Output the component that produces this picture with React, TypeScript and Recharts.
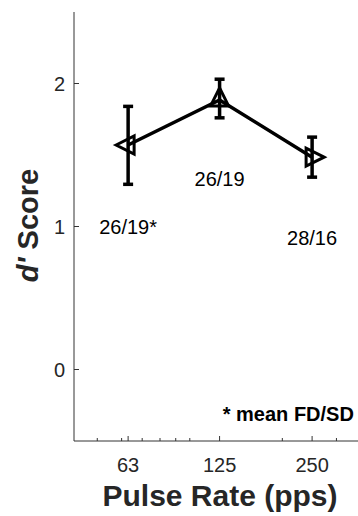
import React from 'react';
import { ComposedChart, Line, XAxis, YAxis, ErrorBar, Scatter, Label } from 'recharts';

// ---- data ----
const pulseRates = [63, 125, 250];
const dPrimeScores = [1.57, 1.885, 1.485];
const errorBelow = [0.275, 0.125, 0.14];
const errorAbove = [0.27, 0.145, 0.14];
const markerDirections = ['left', 'up', 'right'];

const xMajorTicks = [63, 125, 250];
const xMinorTicks = [50, 60, 70, 80, 90, 100, 200, 300];
const yTicks = [0, 1, 2];

const annotationX = [63, 125, 250, 128];
const annotationY = [1.0, 1.335, 0.92, -0.31];
const annotationText = ['26/19*', '26/19', '28/16', '* mean FD/SD'];
const annotationBold = [false, false, false, true];

const xAxisTitle = 'Pulse Rate (pps)';
const yAxisTitleItalic = "d'";
const yAxisTitleRest = ' Score';

// ---- styling ----
const FONT = '"Liberation Sans", Arial, Helvetica, sans-serif';
const AXIS = '#333333';
const TEXT = '#262626';
const X_DOMAIN = [42, 380];
const Y_DOMAIN = [-0.5, 2.5];

const lineData = pulseRates.map((r, i) => ({
  rate: r,
  d: dPrimeScores[i],
  err: [errorBelow[i], errorAbove[i]],
  marker: markerDirections[i],
}));

const annotationData = annotationX.map((x, i) => ({
  rate: x,
  d: annotationY[i],
  text: annotationText[i],
  bold: annotationBold[i],
}));

const allXTicks = [...xMinorTicks, ...xMajorTicks].sort((a, b) => a - b);

const BottomTick = (props: any) => {
  const { x, y, payload } = props;
  const major = xMajorTicks.includes(payload.value);
  return (
    <g>
      <line x1={x} x2={x} y1={y} y2={y - (major ? 5 : 3)} stroke={AXIS} strokeWidth={1} />
      {major && (
        <text x={x} y={y + 31} textAnchor="middle" fontSize={20} fill={TEXT} fontFamily={FONT}>
          {payload.value}
        </text>
      )}
    </g>
  );
};

const TopTick = (props: any) => {
  const { x, y, payload } = props;
  const major = xMajorTicks.includes(payload.value);
  return <line x1={x} x2={x} y1={y} y2={y + (major ? 5 : 3)} stroke={AXIS} strokeWidth={1} />;
};

const LeftTick = (props: any) => {
  const { x, y, payload } = props;
  return (
    <g>
      <line x1={x} x2={x + 5} y1={y} y2={y} stroke={AXIS} strokeWidth={1} />
      <text x={x - 9} y={y} textAnchor="end" dominantBaseline="central" fontSize={20} fill={TEXT} fontFamily={FONT}>
        {payload.value}
      </text>
    </g>
  );
};

const YTitle = (props: any) => {
  const { viewBox } = props;
  const cx = viewBox.x + 28;
  const cy = viewBox.y + viewBox.height / 2 - 1;
  return (
    <text
      x={cx}
      y={cy}
      transform={`rotate(-90 ${cx} ${cy})`}
      textAnchor="middle"
      dominantBaseline="central"
      fontSize={29}
      fontWeight="bold"
      fill={TEXT}
      fontFamily={FONT}
    >
      <tspan fontStyle="italic">{yAxisTitleItalic}</tspan>
      <tspan>{yAxisTitleRest}</tspan>
    </text>
  );
};

const XTitle = (props: any) => {
  const { viewBox } = props;
  const cx = viewBox.x + viewBox.width / 2 - 1;
  const by = viewBox.y + 65;
  return (
    <text x={cx} y={by} textAnchor="middle" fontSize={30} fontWeight="bold" fill={TEXT} fontFamily={FONT}>
      {xAxisTitle}
    </text>
  );
};

const renderMarker = (props: any) => {
  const { cx, cy, index, payload } = props;
  const dir = payload.marker;
  let pts: number[][];
  if (dir === 'left') pts = [[cx - 12, cy], [cx + 6, cy - 9], [cx + 6, cy + 9]];
  else if (dir === 'right') pts = [[cx + 12, cy], [cx - 6, cy - 9], [cx - 6, cy + 9]];
  else pts = [[cx, cy - 12], [cx - 9, cy + 6], [cx + 9, cy + 6]];
  return (
    <polygon
      key={`m-${index}`}
      points={pts.map((p) => p.join(',')).join(' ')}
      fill="none"
      stroke="#000"
      strokeWidth={3}
      strokeLinejoin="miter"
    />
  );
};

const renderAnnotation = (props: any) => {
  const { cx, cy, payload } = props;
  return (
    <text
      x={cx}
      y={cy}
      textAnchor={payload.bold ? 'start' : 'middle'}
      dominantBaseline="central"
      fontSize={20}
      fontWeight={payload.bold ? 'bold' : 'normal'}
      fill="#000"
      fontFamily={FONT}
    >
      {payload.text}
    </text>
  );
};

export default function App() {
  return (
    <div style={{ position: 'absolute', left: 0, top: 0, width: 358, height: 516, overflow: 'hidden', background: '#fff' }}>
      <ComposedChart
        width={370}
        height={516}
        data={lineData}
        margin={{ top: 12, right: 2, bottom: 0, left: 0 }}
      >
        <XAxis
          xAxisId="top"
          orientation="top"
          dataKey="rate"
          type="number"
          scale="log"
          domain={X_DOMAIN}
          allowDataOverflow
          ticks={allXTicks}
          interval={0}
          height={0}
          tickSize={0}
          tickMargin={0}
          tickLine={false}
          axisLine={{ stroke: AXIS }}
          tick={<TopTick />}
        />
        <XAxis
          xAxisId="bottom"
          orientation="bottom"
          dataKey="rate"
          type="number"
          scale="log"
          domain={X_DOMAIN}
          allowDataOverflow
          ticks={allXTicks}
          interval={0}
          height={75}
          tickSize={0}
          tickMargin={0}
          tickLine={false}
          axisLine={{ stroke: AXIS }}
          tick={<BottomTick />}
        >
          <Label content={<XTitle />} />
        </XAxis>
        <YAxis
          yAxisId="y"
          type="number"
          domain={Y_DOMAIN}
          allowDataOverflow
          ticks={yTicks}
          interval={0}
          width={74}
          tickSize={0}
          tickMargin={0}
          tickLine={false}
          axisLine={{ stroke: AXIS }}
          tick={<LeftTick />}
        >
          <Label content={<YTitle />} />
        </YAxis>
        <Line
          xAxisId="bottom"
          yAxisId="y"
          dataKey="d"
          stroke="#000"
          strokeWidth={3.5}
          dot={renderMarker}
          activeDot={false}
          isAnimationActive={false}
        >
          <ErrorBar dataKey="err" direction="y" width={5} stroke="#000" strokeWidth={3.5} />
        </Line>
        <Scatter
          xAxisId="bottom"
          yAxisId="y"
          data={annotationData}
          dataKey="d"
          shape={renderAnnotation}
          isAnimationActive={false}
        />
      </ComposedChart>
    </div>
  );
}
